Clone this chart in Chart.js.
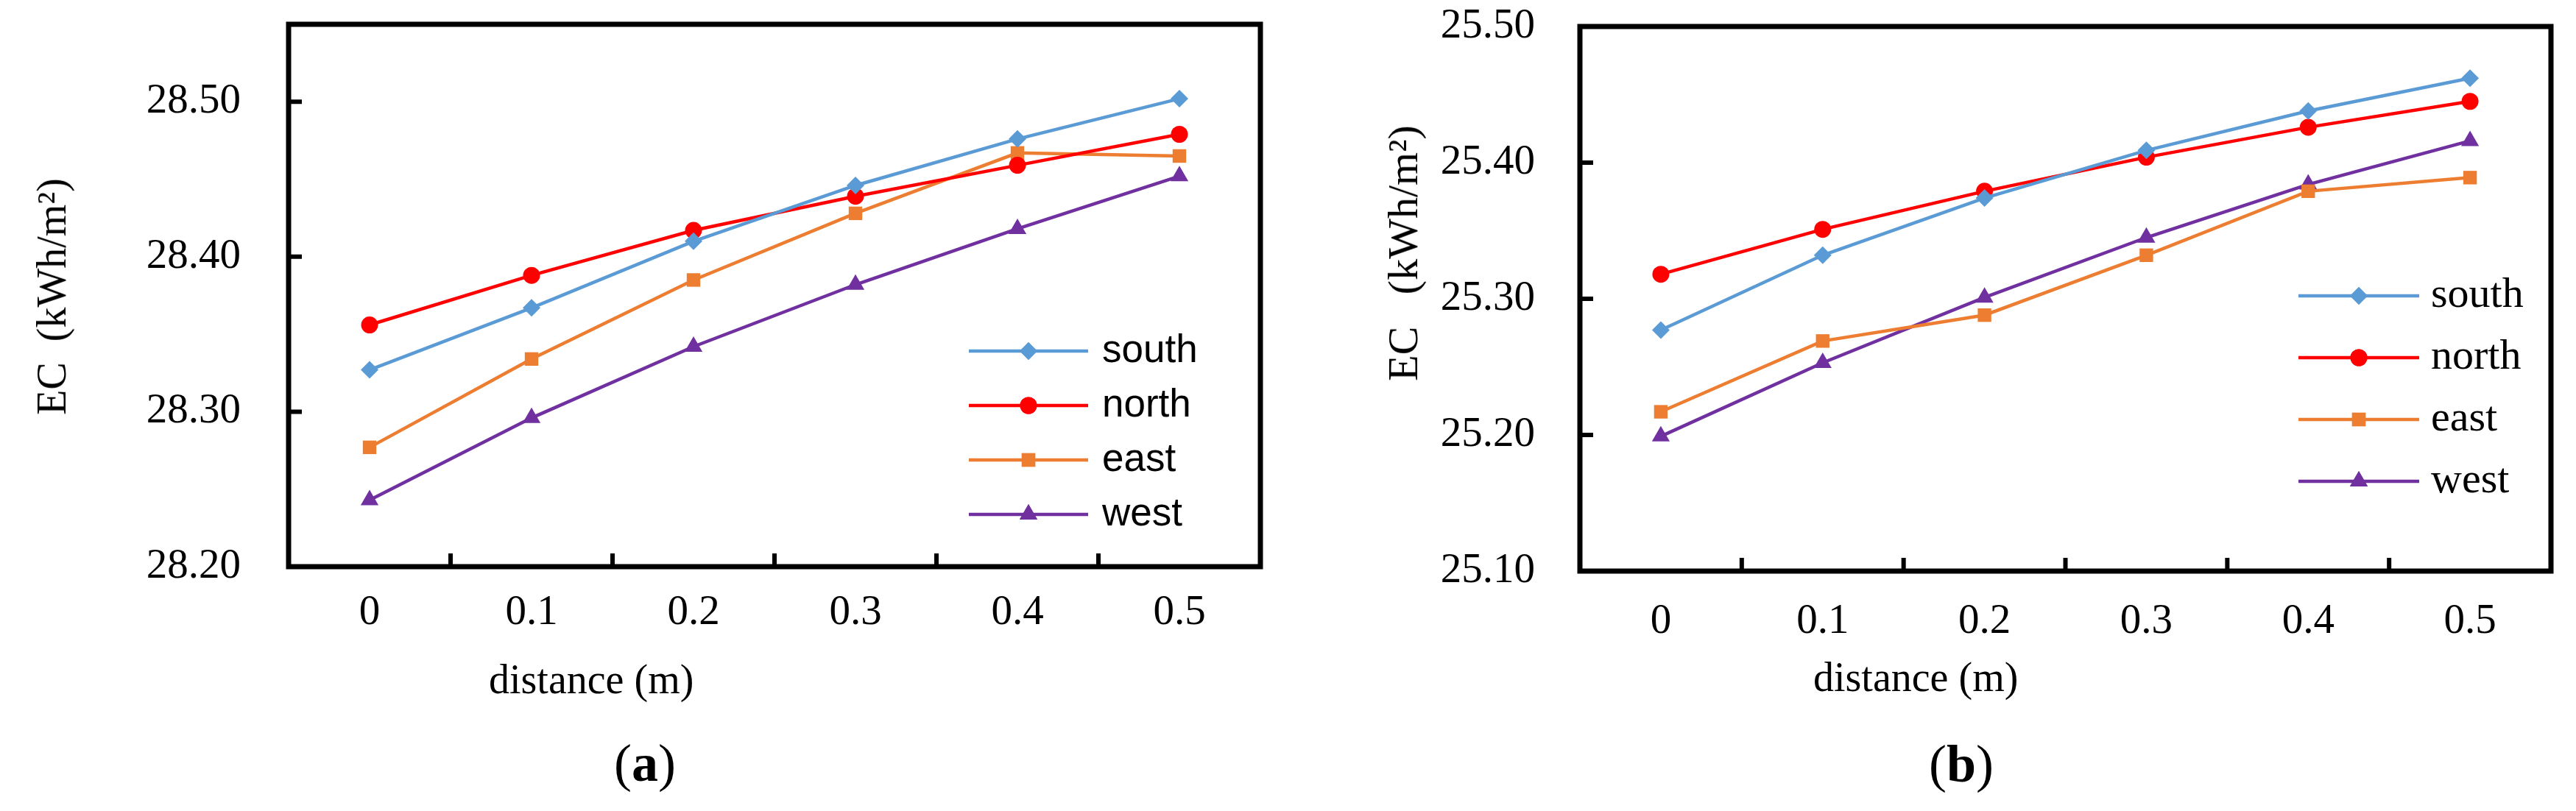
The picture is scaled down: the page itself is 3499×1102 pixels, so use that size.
<!DOCTYPE html>
<html>
<head>
<meta charset="utf-8">
<script src="https://cdn.jsdelivr.net/npm/chart.js@4.4.1/dist/chart.umd.min.js"></script>
<style>
  html, body { margin: 0; padding: 0; background: #fff; }
  #page { position: relative; width: 3499px; height: 1102px; overflow: hidden; background: #fff; }
  canvas { position: absolute; top: 0; }
  .txt { position: absolute; font-family: 'Liberation Serif', 'Times New Roman', serif; color: #000; white-space: pre; line-height: 1; }
  .ytitle { transform: translate(-50%, -50%) rotate(-90deg); }
  .xtitle { transform: translateY(-50%); }
  .panel { transform: translateY(-50%); font-size: 72px; }
</style>
</head>
<body>
<div id="page">
  <canvas id="chartA" width="1750" height="1102" style="left:0"></canvas>
  <canvas id="chartB" width="1749" height="1102" style="left:1750px"></canvas>

  <div class="txt ytitle" style="left:70px; top:403px; font-size:56px">EC  (kWh/m²)</div>
  <div class="txt xtitle" style="left:664px; top:923px; font-size:56px">distance (m)</div>
  <div class="txt panel" style="left:834px; top:1037px">(<b>a</b>)</div>

  <div class="txt ytitle" style="left:1906px; top:344px; font-size:58px">EC   (kWh/m²)</div>
  <div class="txt xtitle" style="left:2463px; top:920px; font-size:56px">distance (m)</div>
  <div class="txt panel" style="left:2620px; top:1038px">(<b>b</b>)</div>
</div>

<script>
// categories (distance, m)
const distances = ['0', '0.1', '0.2', '0.3', '0.4', '0.5'];

// panel (a)
const southA = [28.327, 28.367, 28.410, 28.446, 28.476, 28.502];
const northA = [28.356, 28.388, 28.417, 28.439, 28.459, 28.479];
const eastA  = [28.277, 28.334, 28.385, 28.428, 28.467, 28.465];
const westA  = [28.243, 28.296, 28.342, 28.382, 28.418, 28.452];
const yTicksA = [28.20, 28.30, 28.40, 28.50];

// panel (b)
const southB = [25.277, 25.332, 25.374, 25.409, 25.438, 25.462];
const northB = [25.318, 25.351, 25.379, 25.404, 25.426, 25.445];
const eastB  = [25.217, 25.269, 25.288, 25.332, 25.379, 25.389];
const westB  = [25.199, 25.253, 25.301, 25.345, 25.384, 25.416];
const yTicksB = [25.10, 25.20, 25.30, 25.40, 25.50];

const SERIF = "'Liberation Serif', 'Times New Roman', serif";
const SANS = "'Liberation Sans', Arial, sans-serif";

function series(label, data, color, style, radius) {
    return {
        label: label,
        data: data,
        borderColor: color,
        backgroundColor: color,
        pointBackgroundColor: color,
        pointBorderColor: color,
        pointBorderWidth: 0,
        pointStyle: style,
        pointRadius: radius,
        borderWidth: 4.5,
        tension: 0,
        clip: false
    };
}

function datasets(s, n, e, w) {
    return [
        series('south', s, '#5B9BD5', 'rectRot', 12),
        series('north', n, '#FF0000', 'circle', 11.5),
        series('east', e, '#ED7D31', 'rect', 13),
        series('west', w, '#7030A0', 'triangle', 14)
    ];
}

// box round the plot, inward tick marks and the in-plot legend
const framePlugin = {
    id: 'frame',
    afterDraw(chart, args, opts) {
        const ctx = chart.ctx;
        const a = chart.chartArea;
        const x = chart.scales.x;
        const y = chart.scales.y;
        ctx.save();
        ctx.strokeStyle = '#000';
        ctx.lineWidth = 7;
        ctx.strokeRect(a.left, a.top, a.right - a.left, a.bottom - a.top);

        ctx.lineWidth = 6;
        ctx.beginPath();
        for (let i = 1; i < x.ticks.length; i++) {
            const px = (x.getPixelForTick(i - 1) + x.getPixelForTick(i)) / 2;
            ctx.moveTo(px, a.bottom);
            ctx.lineTo(px, a.bottom - 18);
        }
        y.ticks.forEach(function(t) {
            const py = y.getPixelForValue(t.value);
            if (py > a.top + 5 && py < a.bottom - 5) {
                ctx.moveTo(a.left, py);
                ctx.lineTo(a.left + 18, py);
            }
        });
        ctx.stroke();

        // legend
        const lg = opts.legend;
        chart.data.datasets.forEach(function(ds, i) {
            const ly = lg.y + i * lg.gap;
            ctx.strokeStyle = ds.borderColor;
            ctx.fillStyle = ds.borderColor;
            ctx.lineWidth = 4.5;
            ctx.beginPath();
            ctx.moveTo(lg.x, ly);
            ctx.lineTo(lg.x + lg.len, ly);
            ctx.stroke();
            Chart.helpers.drawPoint(ctx, {
                pointStyle: ds.pointStyle,
                radius: ds.pointRadius,
                rotation: 0,
                borderWidth: 0
            }, lg.x + lg.len / 2, ly);
            ctx.fill();
            ctx.fillStyle = '#000';
            ctx.font = lg.font;
            ctx.textBaseline = 'middle';
            ctx.textAlign = 'left';
            ctx.fillText(ds.label, lg.textX, ly);
        });
        ctx.restore();
    }
};

function makeChart(id, labelsY, yMin, yMax, data, lay) {
    const tickFont = { family: SERIF, size: 57 };
    return new Chart(document.getElementById(id), {
        type: 'line',
        data: { labels: distances, datasets: data },
        plugins: [framePlugin],
        options: {
            responsive: false,
            animation: false,
            devicePixelRatio: 1,
            layout: { padding: { top: lay.top, right: lay.right, left: 0, bottom: 0 } },
            plugins: {
                legend: { display: false },
                tooltip: { enabled: false },
                frame: { legend: lay.legend }
            },
            scales: {
                x: {
                    type: 'category',
                    offset: true,
                    grid: { display: false, drawTicks: false },
                    border: { display: false },
                    ticks: { font: tickFont, color: '#000', padding: lay.xPad, maxRotation: 0 },
                    afterFit: function(s) {
                        s.height = lay.xHeight;
                        s.paddingLeft = 0;
                        s.paddingRight = 0;
                    }
                },
                y: {
                    min: yMin,
                    max: yMax,
                    grid: { display: false, drawTicks: false },
                    border: { display: false },
                    ticks: {
                        font: tickFont,
                        color: '#000',
                        padding: lay.yPad,
                        callback: function(v) { return Number(v).toFixed(2); }
                    },
                    afterBuildTicks: function(s) {
                        s.ticks = labelsY.map(function(v) { return { value: v }; });
                    },
                    afterFit: function(s) {
                        s.width = lay.yWidth;
                        s.paddingTop = 0;
                        s.paddingBottom = 0;
                    }
                }
            }
        }
    });
}

function drawAll() {
    makeChart('chartA', yTicksA, 28.20, 28.55, datasets(southA, northA, eastA, westA), {
        top: 33, right: 38, yWidth: 392, xHeight: 332, xPad: 29, yPad: 65,
        legend: { x: 1316, y: 477, gap: 74, len: 162, textX: 1497, font: '53px ' + SANS }
    });

    makeChart('chartB', yTicksB, 25.10, 25.50, datasets(southB, northB, eastB, westB), {
        top: 36, right: 34, yWidth: 396, xHeight: 326, xPad: 35, yPad: 61,
        legend: { x: 1372, y: 402, gap: 84, len: 164, textX: 1552, font: '58px ' + SERIF }
    });
}

// wait for the canvas fonts before drawing
Promise.all([
    document.fonts.load('57px "Liberation Serif"'),
    document.fonts.load('53px "Liberation Sans"')
]).then(drawAll, drawAll);
</script>
</body>
</html>
